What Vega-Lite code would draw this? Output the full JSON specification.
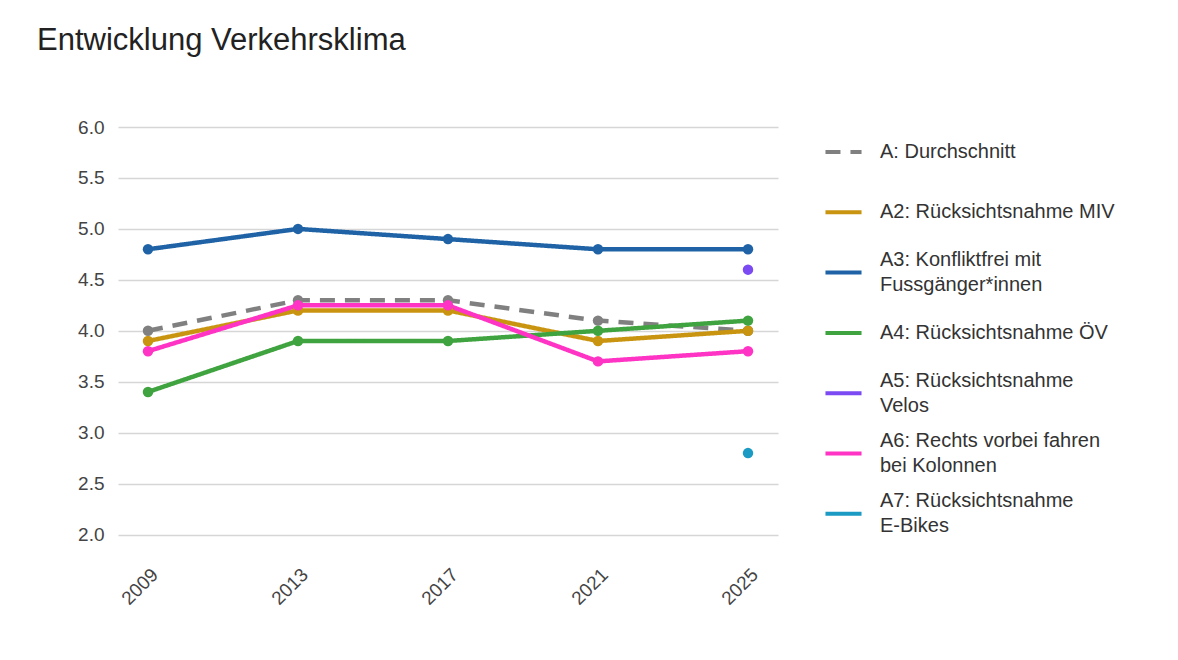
{
  "$schema": "https://vega.github.io/schema/vega-lite/v6.json",
  "width": 660,
  "height": 428,
  "autosize": {"type": "none"},
  "padding": {"left": 118, "top": 127, "right": 400, "bottom": 105},
  "background": "white",
  "title": {
    "text": "Entwicklung Verkehrsklima",
    "anchor": "start",
    "frame": "group",
    "dx": -81,
    "offset": 61,
    "fontSize": 31,
    "fontWeight": "normal",
    "font": "Liberation Sans",
    "color": "#222222"
  },
  "data": {
    "values": [
      {"year": "2009", "series": "A: Durchschnitt", "value": 4.0},
      {"year": "2013", "series": "A: Durchschnitt", "value": 4.3},
      {"year": "2017", "series": "A: Durchschnitt", "value": 4.3},
      {"year": "2021", "series": "A: Durchschnitt", "value": 4.1},
      {"year": "2025", "series": "A: Durchschnitt", "value": 4.0},
      {"year": "2009", "series": "A2: Rücksichtsnahme MIV", "value": 3.9},
      {"year": "2013", "series": "A2: Rücksichtsnahme MIV", "value": 4.2},
      {"year": "2017", "series": "A2: Rücksichtsnahme MIV", "value": 4.2},
      {"year": "2021", "series": "A2: Rücksichtsnahme MIV", "value": 3.9},
      {"year": "2025", "series": "A2: Rücksichtsnahme MIV", "value": 4.0},
      {"year": "2009", "series": "A3: Konfliktfrei mit|Fussgänger*innen", "value": 4.8},
      {"year": "2013", "series": "A3: Konfliktfrei mit|Fussgänger*innen", "value": 5.0},
      {"year": "2017", "series": "A3: Konfliktfrei mit|Fussgänger*innen", "value": 4.9},
      {"year": "2021", "series": "A3: Konfliktfrei mit|Fussgänger*innen", "value": 4.8},
      {"year": "2025", "series": "A3: Konfliktfrei mit|Fussgänger*innen", "value": 4.8},
      {"year": "2009", "series": "A4: Rücksichtsnahme ÖV", "value": 3.4},
      {"year": "2013", "series": "A4: Rücksichtsnahme ÖV", "value": 3.9},
      {"year": "2017", "series": "A4: Rücksichtsnahme ÖV", "value": 3.9},
      {"year": "2021", "series": "A4: Rücksichtsnahme ÖV", "value": 4.0},
      {"year": "2025", "series": "A4: Rücksichtsnahme ÖV", "value": 4.1},
      {"year": "2025", "series": "A5: Rücksichtsnahme|Velos", "value": 4.6},
      {"year": "2009", "series": "A6: Rechts vorbei fahren|bei Kolonnen", "value": 3.8},
      {"year": "2013", "series": "A6: Rechts vorbei fahren|bei Kolonnen", "value": 4.25},
      {"year": "2017", "series": "A6: Rechts vorbei fahren|bei Kolonnen", "value": 4.25},
      {"year": "2021", "series": "A6: Rechts vorbei fahren|bei Kolonnen", "value": 3.7},
      {"year": "2025", "series": "A6: Rechts vorbei fahren|bei Kolonnen", "value": 3.8},
      {"year": "2025", "series": "A7: Rücksichtsnahme|E-Bikes", "value": 2.8}
    ]
  },
  "mark": {"type": "line", "strokeWidth": 4.5, "point": {"filled": true, "size": 110, "opacity": 1}},
  "encoding": {
    "x": {
      "field": "year",
      "type": "ordinal",
      "scale": {"type": "point", "padding": 0.2},
      "axis": {
        "title": null,
        "labelAngle": -45,
        "labelFontSize": 19,
        "labelFont": "Liberation Sans",
        "labelColor": "#444444",
        "domain": false,
        "ticks": false,
        "grid": false,
        "labelPadding": 10
      }
    },
    "y": {
      "field": "value",
      "type": "quantitative",
      "scale": {"domain": [1.8, 6.0], "nice": false, "zero": false},
      "axis": {
        "title": null,
        "values": [2.0, 2.5, 3.0, 3.5, 4.0, 4.5, 5.0, 5.5, 6.0],
        "format": ".1f",
        "labelFontSize": 19,
        "labelFont": "Liberation Sans",
        "labelColor": "#444444",
        "domain": false,
        "ticks": false,
        "gridColor": "#d6d6d6",
        "gridWidth": 1.5,
        "labelPadding": 14
      }
    },
    "color": {
      "field": "series",
      "type": "nominal",
      "scale": {
        "domain": ["A: Durchschnitt", "A2: Rücksichtsnahme MIV", "A3: Konfliktfrei mit|Fussgänger*innen", "A4: Rücksichtsnahme ÖV", "A5: Rücksichtsnahme|Velos", "A6: Rechts vorbei fahren|bei Kolonnen", "A7: Rücksichtsnahme|E-Bikes"],
        "range": ["#808080", "#c99410", "#1f63a6", "#3fa33f", "#7b4af2", "#ff33c4", "#1b9bc4"]
      },
      "legend": {
        "title": null,
        "orient": "none",
        "legendX": 705,
        "legendY": 4.5,
        "symbolType": "M-1,-1.125M-1,0H1M1,1.125",
        "symbolSize": 1300,
        "symbolStrokeWidth": 4,
        "labelFontSize": 20,
        "labelFont": "Liberation Sans",
        "labelColor": "#333333",
        "labelOffset": 16,
        "labelLimit": 320,
        "labelExpr": "split(datum.label, '|')",
        "rowPadding": 3.3,
        "encode": {
          "labels": {
            "update": {
              "lineHeight": {"value": 25},
              "dy": {"signal": "indexof(datum.label, '|') >= 0 ? -12.5 : 0"}
            }
          }
        }
      }
    },
    "strokeDash": {
      "field": "series",
      "type": "nominal",
      "scale": {
        "domain": ["A: Durchschnitt", "A2: Rücksichtsnahme MIV", "A3: Konfliktfrei mit|Fussgänger*innen", "A4: Rücksichtsnahme ÖV", "A5: Rücksichtsnahme|Velos", "A6: Rechts vorbei fahren|bei Kolonnen", "A7: Rücksichtsnahme|E-Bikes"],
        "range": [[15, 10], [1, 0], [1, 0], [1, 0], [1, 0], [1, 0], [1, 0]]
      },
      "legend": null
    }
  },
  "config": {
    "view": {"stroke": null}
  }
}
